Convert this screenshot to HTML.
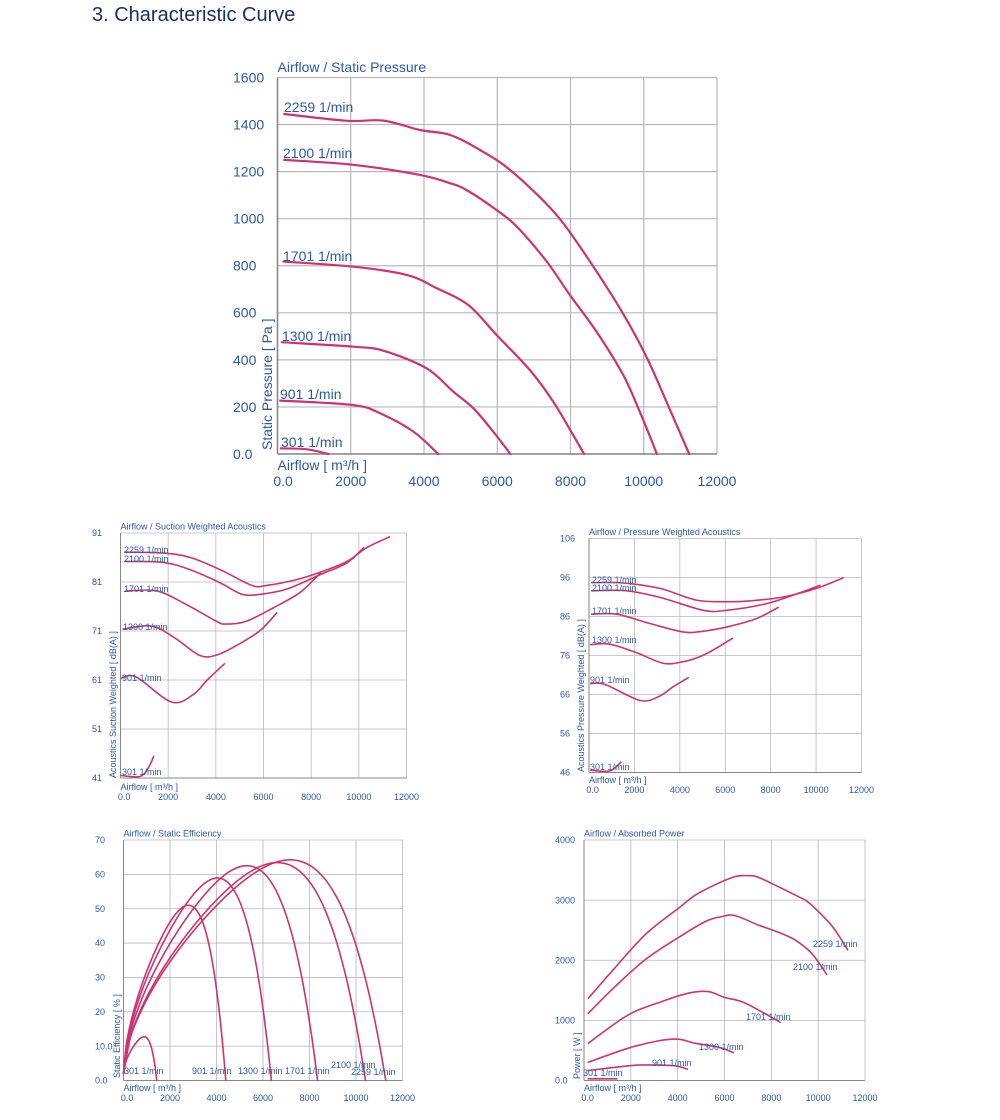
<!DOCTYPE html>
<html><head><meta charset="utf-8">
<style>
html,body{margin:0;padding:0;background:#fff;}
svg{display:block;font-family:"Liberation Sans",sans-serif;}
</style></head>
<body>
<svg id="s" width="1000" height="1120" xmlns="http://www.w3.org/2000/svg">
<text x="92" y="21" font-size="20" fill="#1c2f66">3. Characteristic Curve</text>
</svg>
<script>
var S=document.getElementById('s'),NS='http://www.w3.org/2000/svg';
function el(t,a,txt){var e=document.createElementNS(NS,t);for(var k in a)e.setAttribute(k,a[k]);if(txt!=null)e.textContent=txt;S.appendChild(e);return e;}
var BLUE='#2a5aa8',RED='#cc3470',GRID='#b8b8b8';
function smooth(p){var d='M'+p[0][0].toFixed(1)+','+p[0][1].toFixed(1);
 for(var i=0;i<p.length-1;i++){var p0=p[i-1]||p[i],p1=p[i],p2=p[i+1],p3=p[i+2]||p2;
  var c1=[p1[0]+(p2[0]-p0[0])/6,p1[1]+(p2[1]-p0[1])/6],c2=[p2[0]-(p3[0]-p1[0])/6,p2[1]-(p3[1]-p1[1])/6];
  d+=' C'+c1[0].toFixed(1)+','+c1[1].toFixed(1)+' '+c2[0].toFixed(1)+','+c2[1].toFixed(1)+' '+p2[0].toFixed(1)+','+p2[1].toFixed(1);}
 return d;}
function chart(c){
 var L=c.L,R=c.R,T=c.T,B=c.B;
 function X(v){return L+(v/12000)*(R-L);} function Y(v){return B-(v-c.y0)/(c.y1-c.y0)*(B-T);}
 for(var i=0;i<=6;i++){var x=X(i*2000);el('line',{x1:x,y1:T,x2:x,y2:B,stroke:GRID,'stroke-width':c.gw});}
 var n=c.yt.length-1;
 for(var j=0;j<=n;j++){var y=B-j*(B-T)/n;el('line',{x1:L,y1:y,x2:R,y2:y,stroke:GRID,'stroke-width':c.gw});
  el('text',{x:c.tx,y:y+c.fs*0.35,'font-size':c.fs,fill:BLUE},c.yt[j]);}
 el('line',{x1:L,y1:T,x2:L,y2:B,stroke:'#888','stroke-width':c.gw*1.3});
 el('line',{x1:L,y1:B,x2:R,y2:B,stroke:'#888','stroke-width':c.gw*1.3});
 var xl=['0.0','2000','4000','6000','8000','10000','12000'];
 for(var i=0;i<=6;i++)el('text',{x:X(i*2000)+(i==0?c.fs*0.4:0),y:c.xb,'font-size':c.fs,fill:BLUE,'text-anchor':'middle'},xl[i]);
 el('text',{x:L,y:c.ab,'font-size':c.fs,fill:BLUE},'Airflow [ m³/h ]');
 el('text',{x:L,y:T-c.fs*0.4,'font-size':c.fs*(c.tf||1),fill:BLUE},c.title);
 el('text',{x:0,y:0,'font-size':c.fs,fill:BLUE,'text-anchor':'start',transform:'translate('+c.yx+','+c.yb+') rotate(-90)'},c.ylab);
 c.series.forEach(function(s){var p=s.map(function(q){return [X(q[0]),Y(q[1])];});
  el('path',{d:smooth(p),fill:'none',stroke:RED,'stroke-width':c.sw,'stroke-linejoin':'round','stroke-linecap':'round'});});
 c.labels.forEach(function(l){el('text',{x:l[1],y:l[2],'font-size':c.lf||c.fs,fill:BLUE},l[0]);});
}
// main
chart({L:277.5,R:717,T:77.5,B:454,y0:0,y1:1600,gw:1.2,fs:14,tx:233,tf:1,xb:486,ab:470,yx:272,yb:450,
 yt:['0.0','200','400','600','800','1000','1200','1400','1600'],title:'Airflow / Static Pressure',ylab:'Static Pressure [ Pa ]',sw:2.2,
 series:[
 [[182,1445],[1890,1416],[2890,1417],[3890,1377],[4710,1356],[5530,1292],[6350,1207],[7440,1047],[8160,903],[9350,619],[10070,414],[10620,222],[11240,0]],
 [[182,1250],[2070,1229],[3890,1186],[4710,1151],[5160,1122],[5980,1037],[6530,967],[7350,818],[7980,676],[8710,520],[9440,336],[9890,180],[10360,0]],
 [[164,818],[2070,796],[3530,761],[4350,704],[5210,633],[5980,506],[6890,357],[7530,222],[8070,81],[8370,0]],
 [[118,475],[2070,456],[2890,439],[4070,364],[4800,265],[5350,194],[5890,95],[6360,0]],
 [[73,227],[2070,208],[2800,173],[3710,95],[4390,0]],
 [[91,24],[800,20],[1390,0]]],
 labels:[['2259 1/min',284,112],['2100 1/min',283,158],['1701 1/min',283,261],['1300 1/min',282,341],['901 1/min',280,399],['301 1/min',281,447]]});
// suction
chart({L:120.5,R:406.5,T:533,B:778,y0:41,y1:91,gw:0.8,fs:9,tx:92,xb:800,ab:790,yx:116,yb:778,
 yt:['41','51','61','71','81','91'],title:'Airflow / Suction Weighted Acoustics',ylab:'Acoustics Suction Weighted [ dB(A) ]',sw:1.6,
 series:[
 [[180,87.1],[1790,86.9],[2930,86],[4190,83.5],[5510,80.3],[6140,80.3],[7400,81.5],[8380,83],[9500,85.2],[10330,88],[11290,90.2]],
 [[180,85.2],[1790,85],[2930,83.5],[4190,80.8],[5100,78.5],[5880,78.5],[7000,79.6],[8380,82.5],[9500,84.9],[10200,88]],
 [[180,79.1],[1510,79.2],[2760,76.4],[4020,73],[4440,72.4],[5280,73],[6400,75.7],[7510,78.8],[8380,82.8]],
 [[110,71.4],[1300,72],[2280,69.6],[3330,66],[4100,66.2],[5070,68.6],[5910,71.3],[6550,74.7]],
 [[40,61.4],[670,61.6],[2130,56.5],[3040,58],[3660,61.1],[4360,64.3]],
 [[40,41.5],[810,41.3],[1160,43],[1390,45.4]]],
 labels:[['2259 1/min',124,553],['2100 1/min',124,562],['1701 1/min',124,592],['1300 1/min',123,630],['901 1/min',122,681],['301 1/min',122,775]]});
// pressure
chart({L:589,R:861.5,T:538.5,B:772.5,y0:46,y1:106,gw:0.8,fs:9,tx:560,xb:793,ab:783,yx:584,yb:772,
 yt:['46','56','66','76','86','96','106'],title:'Airflow / Pressure Weighted Acoustics',ylab:'Acoustics Pressure Weighted [ dB(A) ]',sw:1.6,
 series:[
 [[117,94.7],[1510,94.6],[3120,93.2],[4740,90.2],[6060,89.8],[7090,90],[8550,91],[10020,93.2],[11190,95.9]],
 [[117,92.6],[1660,92.6],[3120,90.9],[5030,87.6],[6060,87.6],[7820,89.3],[9290,92.1],[10170,94]],
 [[117,86.6],[1220,86.6],[2680,84.2],[4080,82.1],[4880,82.1],[6200,83.5],[7380,85.5],[8330,88.3]],
 [[80,78.8],[920,78.9],[2100,76.7],[3270,74],[4150,74.4],[4880,75.7],[5470,77.4],[6320,80.4]],
 [[80,68.8],[700,68.6],[2240,64.5],[3050,65.4],[3710,68],[4370,70.3]],
 [[80,46.6],[920,46.4],[1410,48.7]]],
 labels:[['2259 1/min',592,583],['2100 1/min',592,591],['1701 1/min',592,614],['1300 1/min',592,643],['901 1/min',590,683],['301 1/min',590,770]]});
// efficiency
function eff(xm,pk){var pts=[],pv=Math.pow(0.64,0.6)*(1-Math.pow(0.64,5));
 for(var i=0;i<=40;i++){var u=i/40;pts.push([u*xm,pk*Math.pow(u,0.6)*(1-Math.pow(u,5))/pv+ (1-u)*2]);}pts[40][1]=0;return pts;}
chart({L:123.5,R:402.5,T:840,B:1080.5,y0:0,y1:70,gw:0.8,fs:9,tx:95,xb:1101,ab:1091,yx:120,yb:1078,
 yt:['0.0','10.0','20','30','40','50','60','70'],title:'Airflow / Static Efficiency',ylab:'Static Efficiency [ % ]',sw:1.6,
 series:[eff(1430,12),eff(4400,50.3),eff(6360,58.2),eff(8350,61.8),eff(10410,62.7),eff(11280,63.5)],
 labels:[['301 1/min',124,1074],['901 1/min',192,1074],['1300 1/min',238,1074],['1701 1/min',285,1074],['2100 1/min',331,1068],['2259 1/min',351,1075]]});
// power
chart({L:584,R:865,T:840,B:1080.5,y0:0,y1:4000,gw:0.8,fs:9,tx:555,xb:1101,ab:1091,yx:580,yb:1079,
 yt:['0.0','1000','2000','3000','4000'],title:'Airflow / Absorbed Power',ylab:'Power [ W ]',sw:1.6,
 series:[
 [[185,1368],[1180,1812],[2600,2421],[4030,2864],[4880,3114],[6310,3374],[7020,3407],[7440,3380],[8300,3224],[9150,3058],[9580,2964],[10430,2643],[10860,2421],[11260,2172]],
 [[185,1119],[1180,1507],[2600,2006],[4030,2377],[5170,2643],[5880,2726],[6450,2742],[7440,2587],[8300,2465],[9010,2338],[9720,2116],[10360,1767]],
 [[185,620],[1890,1091],[3320,1313],[4460,1452],[5310,1479],[6020,1380],[6730,1313],[7440,1175],[8370,970]],
 [[185,305],[1890,537],[3170,659],[4030,687],[4740,620],[5740,554],[6380,465]],
 [[185,166],[1890,244],[2600,260],[3890,244],[4410,188]],
 [[185,28],[1400,28]]],
 labels:[['2259 1/min',813,947],['2100 1/min',793,970],['1701 1/min',746,1020],['1300 1/min',699,1050],['901 1/min',652,1066],['301 1/min',583,1076]]});
</script>
</body></html>
